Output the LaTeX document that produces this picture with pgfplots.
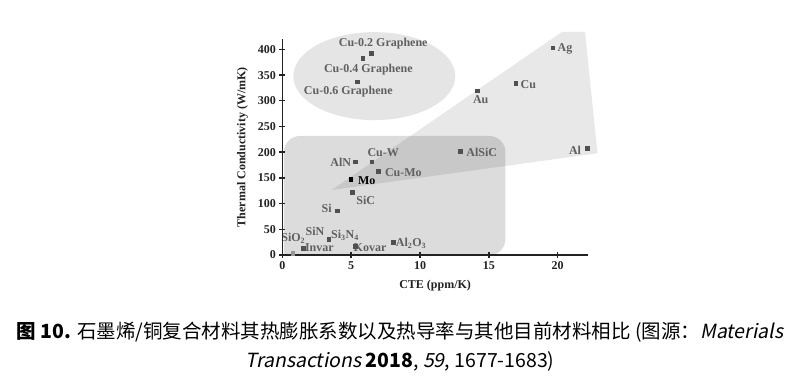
\documentclass[border=0pt]{standalone}
\usepackage{pgfplots}
\pgfplotsset{compat=1.18}
\usepackage{fontspec}
\setmainfont{Liberation Serif}
\newfontfamily\cjk{Noto Sans CJK SC}[ItalicFont={Noto Sans CJK SC}, ItalicFeatures={FakeSlant=0.2}]
\definecolor{lbl}{HTML}{606060}
\definecolor{mk}{HTML}{505050}
\definecolor{ax}{HTML}{222222}
\begin{document}
\begin{tikzpicture}
\path[use as bounding box] (0pt,0pt) rectangle (800pt,-387pt);
\begin{axis}[
  at={(282.3pt,-255pt)}, anchor=south west, scale only axis,
  width=305.7pt, height=215.9pt,
  xmin=0, xmax=22.2, ymin=0, ymax=420,
  axis lines=left,
  axis line style={-, line width=1.6pt, ax},
  clip=false, axis on top=true,
  xtick={0,5,10,15,20}, ytick={0,50,...,400},
  tick align=center, major tick length=6pt,
  tick style={line width=1.4pt, ax},
  /pgf/number format/assume math mode=true,
  ticklabel style={font=\bfseries\fontsize{12}{12}\selectfont, text=ax},
  xlabel={CTE (ppm/K)}, ylabel={Thermal Conductivity (W/mK)},
  label style={font=\bfseries\fontsize{12}{12}\selectfont, text=ax},
  xlabel style={yshift=-4pt},
  ylabel style={yshift=3pt},
]
% shaded regions
\fill[black, opacity=0.10] (axis cs:6.68,348) ellipse [x radius=81pt, y radius=44pt];
\addplot[draw=none, fill=black, fill opacity=0.09, forget plot]
  coordinates {(3.59,126.5) (20.31,434) (21.98,434) (22.89,197.9)} -- cycle;
\fill[black, opacity=0.137, rounded corners=16pt]
  (axis cs:0.12,-0.5) -- (axis cs:0.12,231.5) -- (axis cs:16.2,231.5) -- (axis cs:16.2,-0.5) [sharp corners] -- cycle;
% data points
\addplot[only marks, mark=square*, mark size=1.9pt, color=mk] coordinates {
 (19.64,403.3) (16.95,334) (14.14,319.7) (22.15,207.6) (12.9,202)
 (6.44,392.4) (5.84,382.6) (5.45,337)
 (5.28,181.5) (6.49,181.5) (6.97,163.4) (5.09,121.9) (3.97,86.2)
 (3.37,31.1) (1.50,13.6) (5.28,17.5) (8.06,25.3)
};
\addplot[only marks, mark=square*, mark size=1.9pt, color=mk!60] coordinates {(0.75,3.2)};
\addplot[only marks, mark=square*, mark size=1.9pt, color=black] coordinates {(4.97,147.9)};
% labels
\begin{scope}[every node/.style={font=\bfseries\fontsize{12}{12}\selectfont, text=lbl, inner sep=0pt}]
\node at (axis cs:7.33,410.5) {Cu-0.2 Graphene};
\node at (axis cs:6.25,361.3) {Cu-0.4 Graphene};
\node at (axis cs:4.79,317.7) {Cu-0.6 Graphene};
\node at (axis cs:20.53,400.2) {Ag};
\node at (axis cs:17.87,330.7) {Cu};
\node at (axis cs:14.41,301.6) {Au};
\node at (axis cs:21.26,204.3) {Al};
\node at (axis cs:14.48,199) {AlSiC};
\node at (axis cs:7.33,199) {Cu-W};
\node at (axis cs:4.24,180.4) {AlN};
\node at (axis cs:8.79,160.1) {Cu-Mo};
\node[text=black] at (axis cs:6.13,144) {Mo};
\node at (axis cs:6.06,107) {SiC};
\node at (axis cs:3.22,90) {Si};
\node at (axis cs:2.37,46.7) {SiN};
\node at (axis cs:4.55,37.5) {Si\textsubscript{3}N\textsubscript{4}};
\node at (axis cs:0.8,32.5) {SiO\textsubscript{2}};
\node at (axis cs:2.69,14.2) {Invar};
\node at (axis cs:6.37,15) {Kovar};
\node at (axis cs:9.35,22.8) {Al\textsubscript{2}O\textsubscript{3}};
\end{scope}
\end{axis}
\node[font=\cjk\fontsize{19.5}{19.5}\selectfont, text=black] at (400pt,-332pt)
  {\textbf{图 10.} 石墨烯/铜复合材料其热膨胀系数以及热导率与其他目前材料相比 (图源：\textit{Materials}};
\node[font=\cjk\fontsize{19.5}{19.5}\selectfont, text=black] at (400pt,-361pt)
  {\textit{Transactions} \textbf{2018}, \textit{59}, 1677-1683)};
\end{tikzpicture}
\end{document}
